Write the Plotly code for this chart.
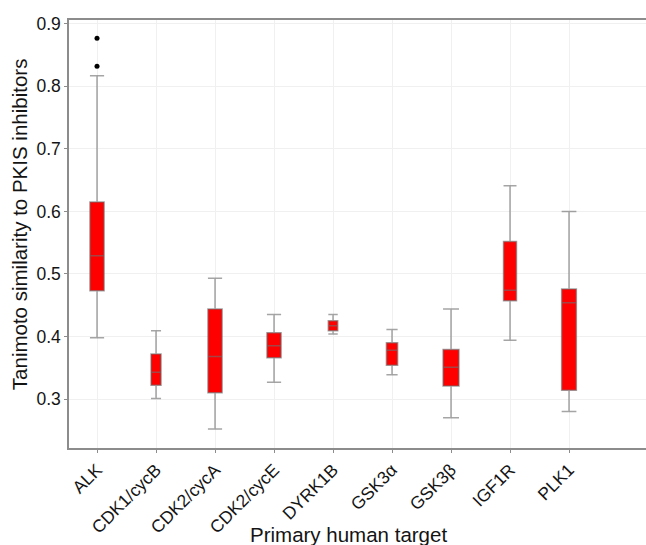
import plotly.graph_objects as go

categories = ["ALK", "CDK1/cycB", "CDK2/cycA", "CDK2/cycE", "DYRK1B",
              "GSK3α", "GSK3β", "IGF1R", "PLK1"]
lower_fence = [0.398, 0.301, 0.252, 0.327, 0.404, 0.339, 0.270, 0.394, 0.280]
q1_values = [0.473, 0.322, 0.310, 0.366, 0.409, 0.354, 0.321, 0.457, 0.314]
median_values = [0.529, 0.343, 0.368, 0.385, 0.417, 0.378, 0.351, 0.474, 0.454]
q3_values = [0.615, 0.372, 0.444, 0.406, 0.425, 0.390, 0.379, 0.552, 0.476]
upper_fence = [0.817, 0.409, 0.493, 0.435, 0.435, 0.411, 0.444, 0.641, 0.600]
outlier_x = ["ALK", "ALK"]
outlier_y = [0.877, 0.832]
y_ticks = [0.3, 0.4, 0.5, 0.6, 0.7, 0.8, 0.9]

# style: box widths (category units), varying as in the reference
box_widths = [0.24, 0.17, 0.24, 0.24, 0.16, 0.19, 0.27, 0.22, 0.25]

FONT = "Liberation Sans, Arial, sans-serif"
TXT = "#141414"

fig = go.Figure()
for i, cat in enumerate(categories):
    fig.add_trace(go.Box(
        x=[cat], q1=[q1_values[i]], median=[median_values[i]], q3=[q3_values[i]],
        lowerfence=[lower_fence[i]], upperfence=[upper_fence[i]],
        width=box_widths[i], whiskerwidth=1,
        fillcolor="#ff0000", line=dict(color="rgba(110,110,110,0.62)", width=1.5),
        boxpoints=False, showlegend=False, name=cat,
    ))

fig.add_trace(go.Scatter(
    x=outlier_x, y=outlier_y, mode="markers",
    marker=dict(color="black", size=5), showlegend=False,
))

fig.update_layout(
    width=646, height=545,
    margin=dict(l=69, r=0, t=20, b=97),
    paper_bgcolor="white", plot_bgcolor="white",
    boxmode="overlay",
    font=dict(family=FONT, color=TXT),
    annotations=[
        dict(text="Tanimoto similarity to PKIS inhibitors", textangle=-90,
             xref="paper", yref="paper", x=0, y=0.523, xshift=-50,
             xanchor="center", yanchor="middle", showarrow=False,
             font=dict(size=20.5, family=FONT, color=TXT)),
        dict(text="Primary human target",
             xref="paper", yref="paper", x=0.485, y=-0.203,
             xanchor="center", yanchor="middle", showarrow=False,
             font=dict(size=20.5, family=FONT, color=TXT)),
    ],
)
fig.update_xaxes(
    type="category", categoryorder="array", categoryarray=categories,
    range=[-0.475, 9.305],
    showline=True, linecolor="#8c8c8c", linewidth=1.5, mirror=True,
    showgrid=True, gridcolor="#f0f0f0", gridwidth=1,
    ticks="outside", ticklen=3, tickcolor="#8c8c8c",
    tickangle=-45, tickfont=dict(size=17.5, family=FONT, color=TXT),
    automargin=False,
)
fig.update_yaxes(
    range=[0.2217, 0.906], tickvals=y_ticks, ticktext=[f"{v:.1f}" for v in y_ticks],
    showline=True, linecolor="#8c8c8c", linewidth=1.5, mirror=False,
    showgrid=True, gridcolor="#f0f0f0", gridwidth=1, zeroline=False,
    ticks="outside", ticklen=3, tickcolor="#8c8c8c",
    tickfont=dict(size=17.5, family=FONT, color=TXT),
    automargin=False,
)

fig.write_html("out.html", config={"displayModeBar": False},
               post_script="document.body.style.margin='0px';")
